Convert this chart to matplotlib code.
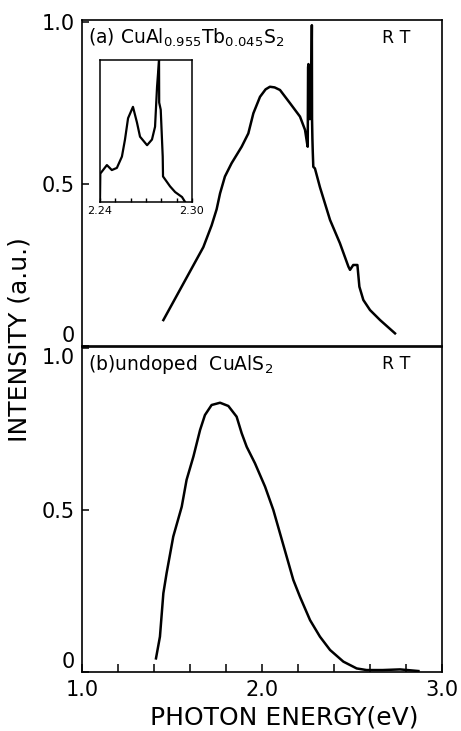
import numpy as np
import matplotlib.pyplot as plt
from matplotlib.ticker import MultipleLocator

plt.rcParams['font.family'] = ['DejaVu Sans']

# (a) CuAl0.955Tb0.045S2 - spectrum chinh
ea = [1.452, 1.526, 1.600, 1.674, 1.720, 1.748, 1.767, 1.794, 1.831, 1.887,
      1.924, 1.952, 1.989, 2.020, 2.044, 2.070, 2.100, 2.156, 2.211, 2.239,
      2.252, 2.254, 2.256, 2.258, 2.262, 2.266, 2.270, 2.274, 2.277, 2.278,
      2.280, 2.282, 2.285, 2.294, 2.322, 2.378, 2.433, 2.480, 2.489, 2.507,
      2.530, 2.541, 2.563, 2.600, 2.656, 2.739]
ia = [0.080, 0.155, 0.230, 0.305, 0.372, 0.422, 0.471, 0.523, 0.564, 0.615,
      0.656, 0.718, 0.769, 0.792, 0.800, 0.798, 0.790, 0.749, 0.708, 0.667,
      0.620, 0.615, 0.860, 0.870, 0.760, 0.700, 0.800, 0.770, 0.990, 0.700,
      0.640, 0.600, 0.553, 0.548, 0.490, 0.389, 0.317, 0.245, 0.235, 0.250,
      0.250, 0.183, 0.142, 0.111, 0.080, 0.039]

# inset 2.24 - 2.30 eV
e_in = [2.2400, 2.2402, 2.2445, 2.2477, 2.2510, 2.2543, 2.2563, 2.2583, 2.2615,
        2.2641, 2.2661, 2.2707, 2.2739, 2.2759, 2.2772, 2.2785, 2.2786, 2.2796,
        2.2809, 2.2811, 2.2857, 2.2890, 2.2935, 2.2955]
i_in = [0.02, 0.20, 0.26, 0.225, 0.24, 0.32, 0.44, 0.59, 0.67,
        0.56, 0.46, 0.40, 0.44, 0.53, 0.81, 1.00, 0.70, 0.65,
        0.32, 0.18, 0.11, 0.07, 0.035, 0.0]

# (b) undoped CuAlS2
eb = [1.411, 1.433, 1.452, 1.470, 1.507, 1.554, 1.581, 1.619, 1.656, 1.683,
      1.720, 1.767, 1.813, 1.859, 1.887, 1.915, 1.961, 2.017, 2.063, 2.100,
      2.137, 2.174, 2.211, 2.267, 2.322, 2.378, 2.452, 2.526, 2.581, 2.670,
      2.767, 2.869]
ib = [0.042, 0.109, 0.243, 0.305, 0.418, 0.510, 0.593, 0.665, 0.747, 0.793,
      0.824, 0.831, 0.821, 0.788, 0.737, 0.695, 0.644, 0.572, 0.500, 0.428,
      0.356, 0.284, 0.232, 0.160, 0.109, 0.068, 0.032, 0.011, 0.006, 0.006,
      0.008, 0.003]

fig = plt.figure(figsize=(4.61, 7.31), dpi=100)
W, H = 461, 731
axa = fig.add_axes([82/W, 1-346/H, 360/W, 326/H])
axb = fig.add_axes([82/W, 1-672/H, 360/W, 325/H])
axi = fig.add_axes([100/W, 1-202/H, 92/W, 142/H])

lw = 1.8
axa.plot(ea, ia, color='black', lw=lw)
axb.plot(eb, ib, color='black', lw=lw)
axi.plot(e_in, i_in, color='black', lw=1.6)

for ax, top in ((axa, 1.006), (axb, 1.003)):
    ax.set_xlim(1.0, 3.0)
    ax.set_ylim(0, top)
    ax.set_yticks([0, 0.5, 1.0])
    ax.set_yticklabels(['0', '0.5', '1.0'])
    ax.tick_params(axis='y', direction='in', length=5, width=1.1, pad=5, labelsize=15)
    for s in ax.spines.values():
        s.set_linewidth(1.2)

axa.tick_params(axis='x', bottom=False, labelbottom=False)
axa.get_yticklabels()[0].set_va('bottom')
axb.get_yticklabels()[0].set_va('bottom')
axb.get_yticklabels()[2].set_va('top')

axb.set_xticks([1.0, 2.0, 3.0])
axb.set_xticklabels(['1.0', '2.0', '3.0'])
axb.xaxis.set_minor_locator(MultipleLocator(0.2))
axb.tick_params(axis='x', which='both', direction='in', length=6, width=1.1, pad=6, labelsize=15)

axi.set_xlim(2.24, 2.30)
axi.set_ylim(0, 1.0)
axi.set_yticks([])
axi.set_xticks([2.24, 2.30])
axi.set_xticklabels(['2.24', '2.30'])
axi.xaxis.set_minor_locator(MultipleLocator(0.01))
axi.tick_params(axis='x', which='both', direction='in', length=3, width=1.0, pad=3, labelsize=8)
for s in axi.spines.values():
    s.set_linewidth(1.1)

fig.text(88/W, 1-38/H, r'(a) CuAl$_{0.955}$Tb$_{0.045}$S$_2$', fontsize=13.5, va='center', ha='left')
fig.text(396/W, 1-38/H, 'R T', fontsize=12.5, va='center', ha='center')
fig.text(88/W, 1-364/H, r'(b)undoped  CuAlS$_2$', fontsize=13.5, va='center', ha='left')
fig.text(396/W, 1-364/H, 'R T', fontsize=12.5, va='center', ha='center')

fig.text(20/W, 1-340/H, 'INTENSITY (a.u.)', rotation=90, fontsize=18, va='center', ha='center')
fig.text(284/W, 1-718/H, 'PHOTON ENERGY(eV)', fontsize=18, va='center', ha='center')

fig.savefig('out.png', dpi=100)
